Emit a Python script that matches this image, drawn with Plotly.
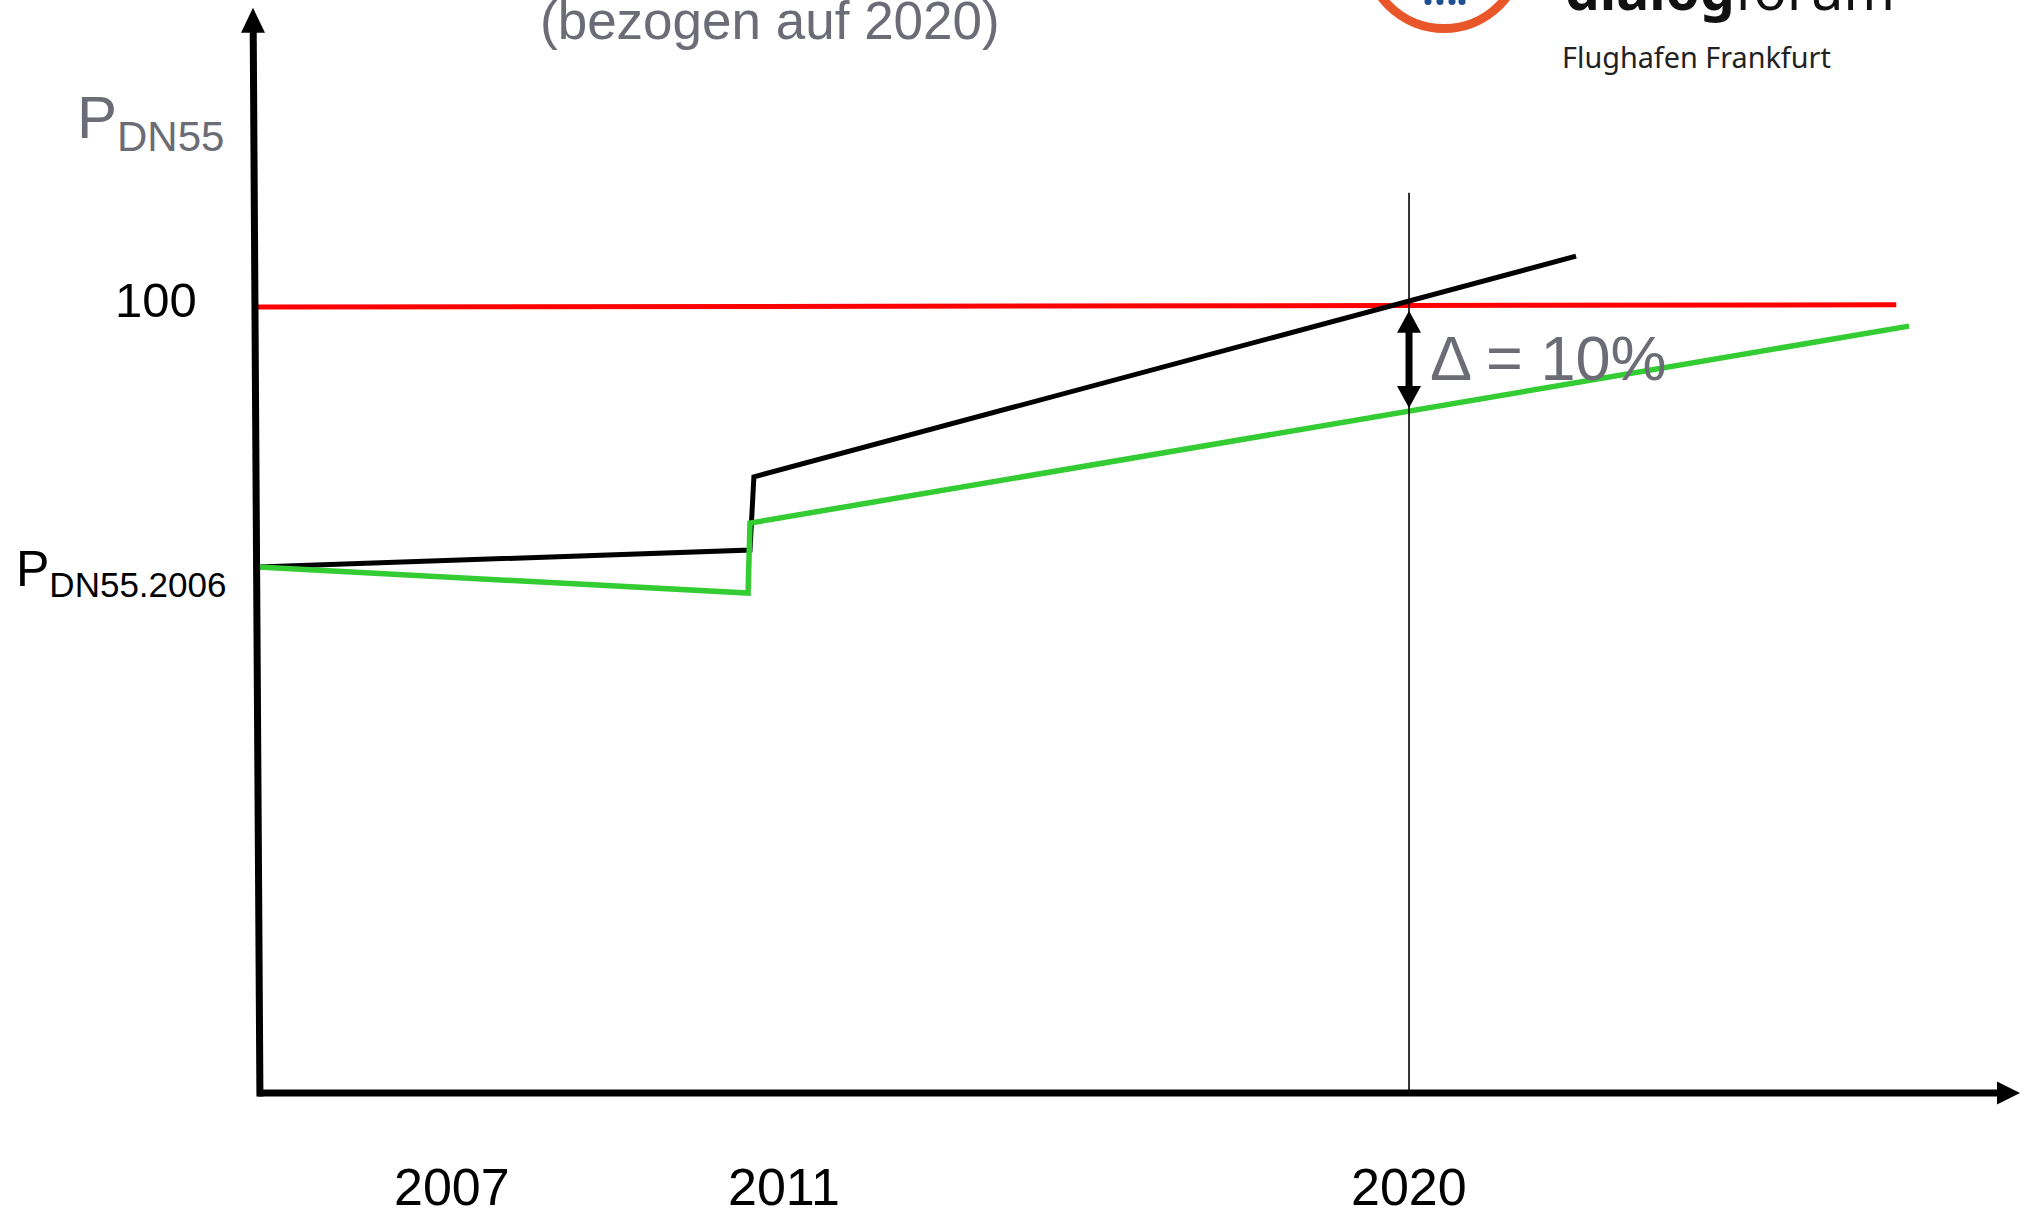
import numpy as np
import plotly.graph_objects as go

W, H = 2031, 1210

# ---------------- data (schematic time units, P_DN55 index; 100 = 2020) ----------------
RED_T = [0.0, 92.4]
RED_P = [99.87, 100.17]

BLACK_T = [0.0, 27.75, 27.97, 74.34]
BLACK_P = [66.84, 69.0, 78.3, 106.35]

GREEN_T = [0.0, 27.64, 27.75, 93.12]
GREEN_P = [66.84, 63.53, 72.43, 97.46]

TICK_T = [10.94, 29.67, 64.92]
TICK_TEXT = ["2007", "2011", "2020"]

Y_TICK_P = [100.0, 66.84]
Y_TICK_TEXT = ["100", "P<sub>DN55.2006</sub>"]

REF_T = 64.92          # 2020 reference
REF_TOP_P = 114.4
DELTA_P = [99.4, 87.05]
DELTA_TEXT = "Δ = 10%"

X_AXIS_END = 99.38
Y_AXIS_TOP = 137.9

# ---------------- styles ----------------
FONT = "Liberation Sans, Arial, Helvetica, sans-serif"
LOGO_FONT = "Noto Sans, Open Sans, sans-serif"
GRAY = "#6b6c75"
RED = "#ff0000"
GREEN = "#33cc33"
BLACK = "#000000"

X_RANGE = [-14.55, 100.0]
Y_RANGE = [-14.87, 138.9]
UX = W / (X_RANGE[1] - X_RANGE[0])   # px per time unit
UY = H / (Y_RANGE[1] - Y_RANGE[0])   # px per index unit


def px(x):
    return x / W


def py(y):
    return 1 - y / H


def head(xa, ya, path):
    """Arrow head drawn in pixel units around a data anchor (positive y = up)."""
    return dict(type="path", xref="x", yref="y", xsizemode="pixel", ysizemode="pixel",
                xanchor=xa, yanchor=ya, path=path, fillcolor=BLACK, line=dict(width=0))


fig = go.Figure()
fig.add_trace(go.Scatter(x=RED_T, y=RED_P, mode="lines",
                         line=dict(color=RED, width=5), hoverinfo="skip", showlegend=False))
fig.add_trace(go.Scatter(x=BLACK_T, y=BLACK_P, mode="lines",
                         line=dict(color=BLACK, width=5), hoverinfo="skip", showlegend=False))
fig.add_trace(go.Scatter(x=GREEN_T, y=GREEN_P, mode="lines",
                         line=dict(color=GREEN, width=5.5), hoverinfo="skip", showlegend=False))

shapes = []
# axes shafts
shapes.append(dict(type="line", xref="x", yref="y", x0=0.0, x1=X_AXIS_END - 20 / UX, y0=0, y1=0,
                   line=dict(color=BLACK, width=7)))
shapes.append(dict(type="line", xref="x", yref="y", x0=0.11, x1=-0.27, y0=-0.45,
                   y1=Y_AXIS_TOP - 20 / UY, line=dict(color=BLACK, width=7)))
# delta shaft
shapes.append(dict(type="line", xref="x", yref="y", x0=REF_T, x1=REF_T,
                   y0=DELTA_P[0] - 15 / UY, y1=DELTA_P[1] + 15 / UY,
                   line=dict(color=BLACK, width=7)))
# arrow heads
shapes.append(head(X_AXIS_END, 0, "M0,0 L-23,11.5 L-23,-11.5 Z"))
shapes.append(head(-0.28, Y_AXIS_TOP, "M0,0 L-12,-25 L12,-25 Z"))
shapes.append(head(REF_T, DELTA_P[0], "M0,0 L-12,-22 L12,-22 Z"))
shapes.append(head(REF_T, DELTA_P[1], "M0,0 L-12,22 L12,22 Z"))
# 2020 vertical reference line
shapes.append(dict(type="line", xref="x", yref="y", x0=REF_T, x1=REF_T, y0=0, y1=REF_TOP_P,
                   line=dict(color=BLACK, width=1.6)))
# logo ring
shapes.append(dict(type="circle", xref="paper", yref="paper",
                   x0=px(1366), x1=px(1522), y0=py(28.5), y1=py(-127.5),
                   line=dict(color="#e8562a", width=9)))
for cx in [1428, 1440, 1452, 1462]:
    shapes.append(dict(type="circle", xref="paper", yref="paper",
                       x0=px(cx - 3.5), x1=px(cx + 3.5), y0=py(5), y1=py(-2),
                       fillcolor="#1d4f91", line=dict(width=0)))

ann = []
ann.append(dict(x=65.99, y=93.4, xref="x", yref="y", text=DELTA_TEXT, showarrow=False,
                xanchor="left", yanchor="middle", font=dict(family=FONT, size=63, color=GRAY)))

# x tick labels
for t, lab in zip(TICK_T, TICK_TEXT):
    ann.append(dict(x=t, y=-11.9, xref="x", yref="y", text=lab, showarrow=False,
                    xanchor="center", yanchor="middle", font=dict(family=FONT, size=52, color=BLACK)))

# y tick labels
ann.append(dict(x=-5.75, y=100.8, xref="x", yref="y", text=Y_TICK_TEXT[0], showarrow=False,
                xanchor="center", yanchor="middle", font=dict(family=FONT, size=49, color=BLACK)))
ann.append(dict(x=-13.75, y=66.2, xref="x", yref="y", text=Y_TICK_TEXT[1], showarrow=False,
                xanchor="left", yanchor="middle", font=dict(family=FONT, size=50, color=BLACK)))

# y axis title
ann.append(dict(x=-10.32, y=123.4, xref="x", yref="y", text="P<sub>DN55</sub>", showarrow=False,
                xanchor="left", yanchor="middle", font=dict(family=FONT, size=60, color=GRAY)))

# title fragment
ann.append(dict(x=28.88, y=136.3, xref="x", yref="y", text="(bezogen auf 2020)", showarrow=False,
                xanchor="center", yanchor="middle", font=dict(family=FONT, size=53, color=GRAY)))

# logo texts
ann.append(dict(x=px(1563), y=py(-12), xref="paper", yref="paper", text="<b>dialog</b>forum",
                showarrow=False, xanchor="left", yanchor="middle",
                font=dict(family=LOGO_FONT, size=55, color="#111111")))
ann.append(dict(x=px(1560), y=py(56.5), xref="paper", yref="paper", text="Flughafen Frankfurt",
                showarrow=False, xanchor="left", yanchor="middle",
                font=dict(family=LOGO_FONT, size=28.8, color="#222222")))

fig.update_layout(
    width=W, height=H,
    margin=dict(l=0, r=0, t=0, b=0, pad=0),
    paper_bgcolor="white", plot_bgcolor="white",
    xaxis=dict(range=X_RANGE, visible=False, fixedrange=True),
    yaxis=dict(range=Y_RANGE, visible=False, fixedrange=True),
    shapes=shapes, annotations=ann, showlegend=False,
)

fig.write_html("out.html", config={"displayModeBar": False},
               post_script="document.body.style.margin='0px';")
